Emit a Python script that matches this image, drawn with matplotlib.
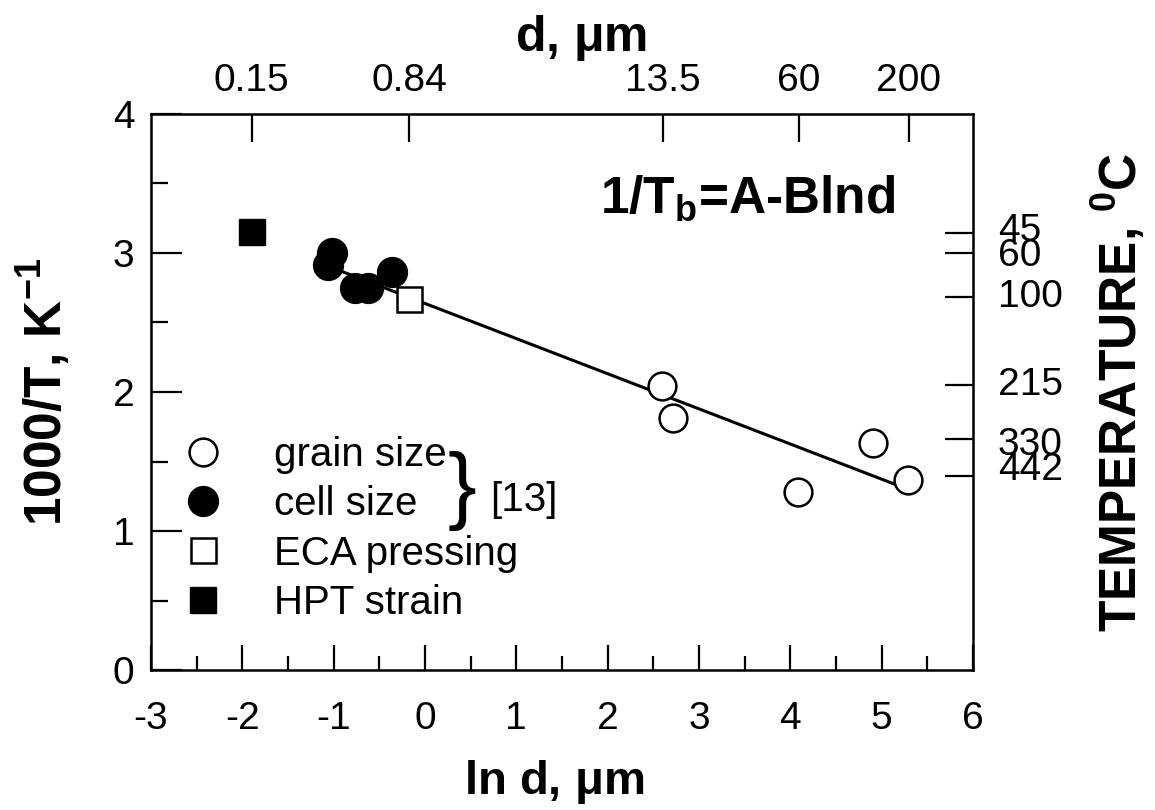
import numpy as np
import matplotlib.pyplot as plt
from matplotlib.ticker import MultipleLocator, FixedLocator, NullLocator

plt.rcParams['font.family'] = ['Liberation Sans', 'DejaVu Sans']
plt.rcParams['mathtext.fontset'] = 'custom'
plt.rcParams['mathtext.rm'] = 'Liberation Sans'
plt.rcParams['mathtext.bf'] = 'Liberation Sans:bold'
plt.rcParams['axes.unicode_minus'] = False

# data (x = ln d, y = 1000/T)
grain_x = [2.60, 2.72, 4.08, 4.90, 5.29]
grain_y = [2.04, 1.81, 1.28, 1.63, 1.37]
cell_x = [-1.02, -1.06, -0.77, -0.62, -0.36]
cell_y = [3.00, 2.91, 2.75, 2.75, 2.86]
eca_x = [-0.18]
eca_y = [2.67]
hpt_x = [-1.89]
hpt_y = [3.15]
fit_x = [-1.04, 5.17]
fit_y = [2.90, 1.33]

d_labels = ['0.15', '0.84', '13.5', '60', '200']
d_values = [0.15, 0.84, 13.5, 60, 200]
temp_values = [45, 60, 100, 215, 330, 442]
# labels grouped the way they are stacked beside the axis
temp_groups = [('45\n60', 3.07), ('100', 2.68), ('215', 2.05), ('330\n442', 1.53)]

fig = plt.figure(figsize=(11.55, 8.1), dpi=100)
ax = fig.add_axes([0.1307, 0.1728, 0.7117, 0.6865])

ax.plot(fit_x, fit_y, '-', color='black', lw=2.2, zorder=2)
ax.plot(grain_x, grain_y, 'o', ms=20, mfc='white', mec='black', mew=1.8,
        ls='none', label='grain size', zorder=3)
ax.plot(cell_x, cell_y, 'o', ms=21.5, mfc='black', mec='black',
        ls='none', label='cell size', zorder=3)
ax.plot(eca_x, eca_y, 's', ms=18, mfc='white', mec='black', mew=1.8,
        ls='none', label='ECA pressing', zorder=4)
ax.plot(hpt_x, hpt_y, 's', ms=19, mfc='black', mec='black',
        ls='none', label='HPT strain', zorder=3)

ax.set_xlim(-3, 6)
ax.set_ylim(0, 4)
ax.xaxis.set_major_locator(MultipleLocator(1))
ax.xaxis.set_minor_locator(MultipleLocator(0.5))
ax.yaxis.set_major_locator(MultipleLocator(1))
ax.yaxis.set_minor_locator(MultipleLocator(0.5))
ax.tick_params(which='both', direction='in', width=1.6, labelsize=28,
               top=False, right=False)
ax.tick_params(axis='y', which='major', length=22, pad=12)
ax.tick_params(axis='y', which='minor', length=12)
ax.tick_params(axis='x', which='major', length=18, pad=22)
ax.tick_params(axis='x', which='minor', length=10)
for s in ax.spines.values():
    s.set_linewidth(1.8)

ax.set_xlabel(r'ln d, $\mathregular{\mu}$m', fontsize=34, fontweight='bold')
ax.xaxis.set_label_coords(0.49, -0.158)
ax.set_ylabel(r'1000/T, K$^{\mathbf{-1}}$', fontsize=37, fontweight='bold')
ax.yaxis.set_label_coords(-0.095, 0.5)

# top axis: grain size d
top = ax.twiny()
top.set_xlim(ax.get_xlim())
top.xaxis.set_major_locator(FixedLocator(np.log(d_values)))
top.xaxis.set_minor_locator(NullLocator())
top.set_xticklabels(d_labels)
top.tick_params(direction='in', length=20, width=1.6, labelsize=28, pad=11)
top.set_xlabel(r'd, $\mathregular{\mu}$m', fontsize=36, fontweight='bold')
top.xaxis.set_label_coords(0.523, 1.113)
for s in top.spines.values():
    s.set_visible(False)

# right axis: temperature
right = ax.twinx()
right.set_ylim(ax.get_ylim())
right.yaxis.set_major_locator(FixedLocator([1000.0 / (t + 273) for t in temp_values]))
right.yaxis.set_minor_locator(NullLocator())
right.set_yticklabels([])
right.tick_params(direction='in', length=20, width=1.6)
for txt, yv in temp_groups:
    right.text(1.03, yv, txt, transform=right.get_yaxis_transform(),
               fontsize=28, ha='left', va='center', linespacing=0.62)
for s in right.spines.values():
    s.set_visible(False)
fig.text(1119 / 1155, 1 - 392 / 810, r'TEMPERATURE, $^{\mathbf{0}}$C', fontsize=37,
         fontweight='bold', rotation=90, ha='center', va='center')

ax.text(0.546, 0.822, r'1/T$_{\mathbf{b}}$=A-Blnd', transform=ax.transAxes,
        fontsize=37, fontweight='bold', ha='left', va='baseline')

leg = ax.legend(loc='upper left', bbox_to_anchor=(183 / 1155, 1 - 436 / 810),
                bbox_transform=fig.transFigure, frameon=False,
                fontsize=29, handlelength=1.0, handletextpad=1.25,
                labelspacing=0.28, markerscale=1.0, borderpad=0, borderaxespad=0)

fig.text(448 / 1155, 1 - 491 / 810, '}', fontsize=62, ha='left', va='center')
fig.text(490 / 1155, 1 - 500 / 810, '[13]', fontsize=29, ha='left', va='center')

fig.savefig('out.png', dpi=100)
